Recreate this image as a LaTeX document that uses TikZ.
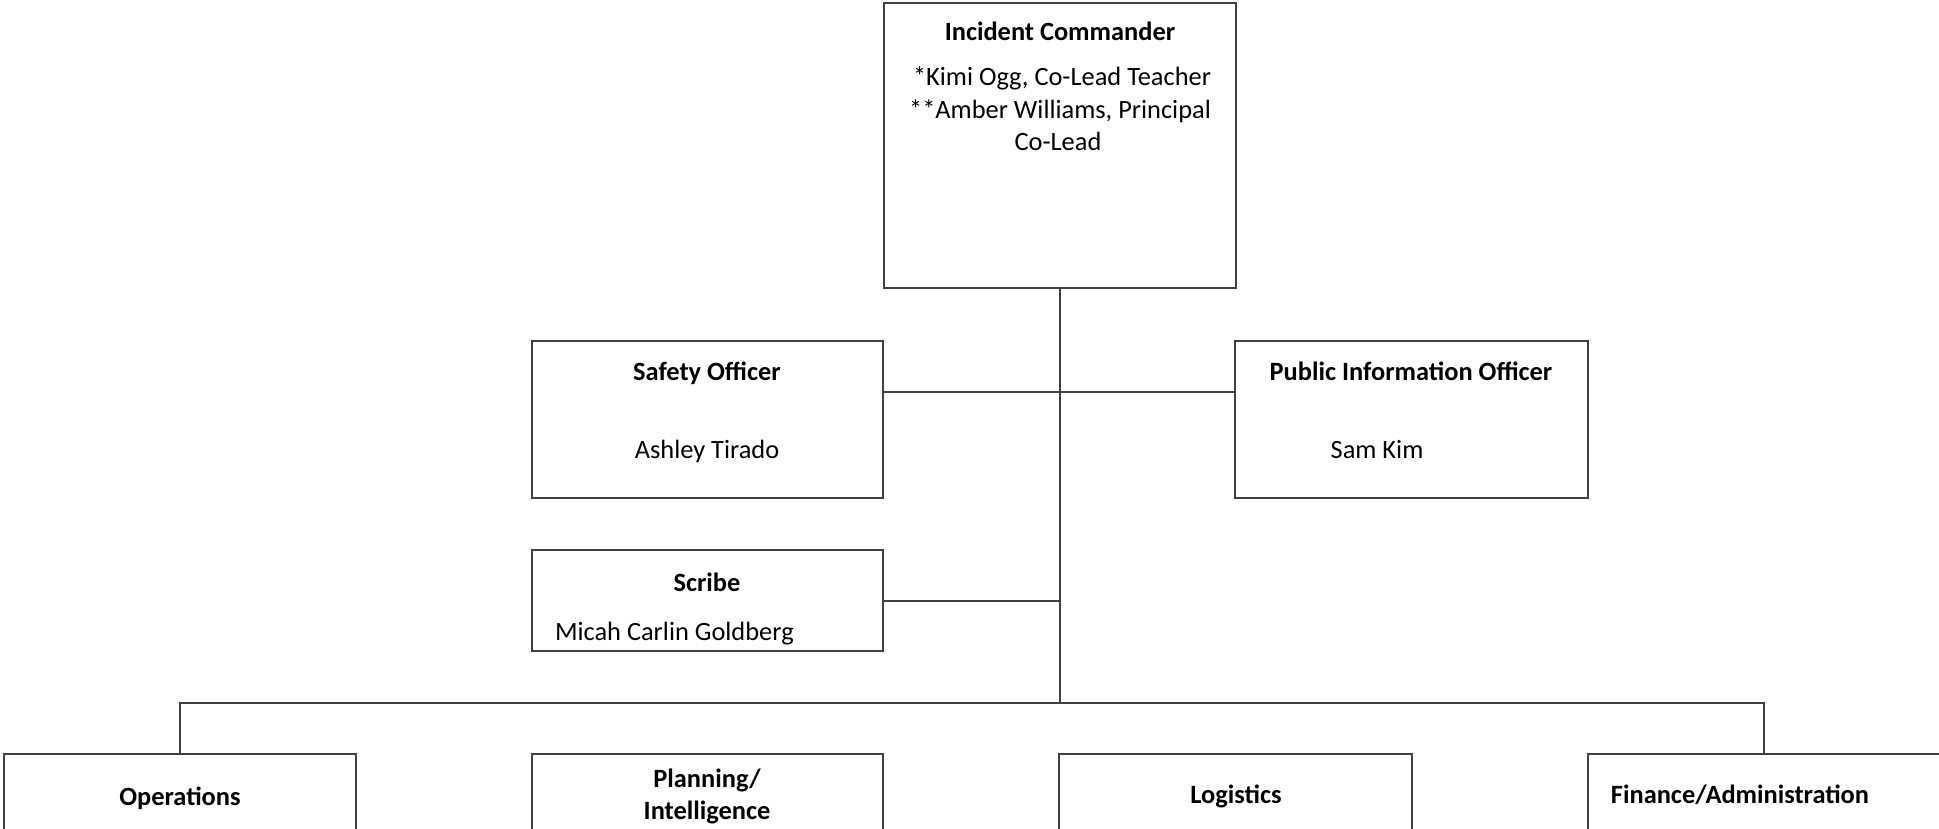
\documentclass[tikz,border=0pt]{standalone}
\usepackage{fontspec}
\setmainfont{Carlito}
\begin{document}
\begin{tikzpicture}[x=0.5pt, y=-0.5pt,
  box/.style={draw=black!75, line width=0.6pt, inner sep=0pt, outer sep=0pt, fill=none},
  conn/.style={draw=black!75, line width=0.6pt},
  lbl/.style={inner sep=0pt, outer sep=0pt, anchor=base, font=\fontsize{13.2pt}{16.1pt}\selectfont},
  ttl/.style={lbl, font=\fontsize{13.2pt}{16.1pt}\selectfont\bfseries}]
\useasboundingbox (0,0) rectangle (1939,829);
\clip (0,0) rectangle (1939,829);
% boxes
\node[box, minimum width=176pt, minimum height=142.5pt] (ic) at (1060,145.5) {};
\node[box, minimum width=175.5pt, minimum height=78.5pt] (so) at (707.5,419.5) {};
\node[box, minimum width=176.5pt, minimum height=78.5pt] (pio) at (1411.5,419.5) {};
\node[box, minimum width=175.5pt, minimum height=50.5pt] (scribe) at (707.5,600.5) {};
\node[box, minimum width=176pt, minimum height=73pt] (ops) at (180,827) {};
\node[box, minimum width=175.5pt, minimum height=73pt] (plan) at (707.5,827) {};
\node[box, minimum width=176.5pt, minimum height=73pt] (log) at (1235.5,827) {};
\node[box, minimum width=176pt, minimum height=73pt] (fin) at (1764,827) {};
% junctions
\coordinate (j1) at (1060,392);
\coordinate (j2) at (1060,601);
\coordinate (j3) at (1060,703);
\coordinate (bl) at (180,703);
\coordinate (br) at (1764,703);
% connectors
\draw[conn] (ic.south) -- (j3);
\draw[conn] (so.east |- j1) -- (pio.west |- j1);
\draw[conn] (scribe.east |- j2) -- (j2);
\draw[conn] (ops.north) -- (bl) -- (br) -- (fin.north);
% labels
\node[ttl] (ict) at (1060,41) {Incident Commander};
\node[lbl] (ic1) at (1062,86) {*Kimi Ogg, Co-Lead Teacher};
\node[lbl] (ic2) at (1060,119) {**Amber Williams, Principal};
\node[lbl] (ic3) at (1058,151) {Co-Lead};
\node[ttl] (sot) at (707,380) {Safety Officer};
\node[lbl] (son) at (707,458) {Ashley Tirado};
\node[ttl] (piot) at (1411,380) {Public Information Officer};
\node[lbl] (pion) at (1377,458) {Sam Kim};
\node[ttl] (sct) at (707,591) {Scribe};
\node[lbl, anchor=base west] (scn) at (555,640) {Micah Carlin Goldberg};
\node[ttl] (opst) at (180,805) {Operations};
\node[ttl] (plt1) at (707,787) {Planning/};
\node[ttl] (plt2) at (707,819) {Intelligence};
\node[ttl] (logt) at (1236,803) {Logistics};
\node[ttl] (fint) at (1740,803) {Finance/Administration};
\end{tikzpicture}
\end{document}
